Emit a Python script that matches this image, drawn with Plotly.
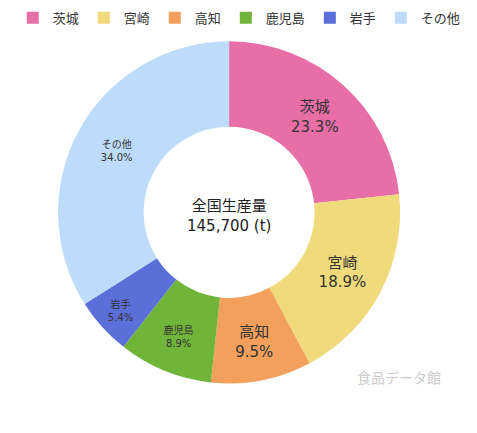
import plotly.graph_objects as go

labels = ['茨城', '宮崎', '高知', '鹿児島', '岩手', 'その他']
shares = [23.3, 18.9, 9.5, 8.9, 5.4, 34.0]
colors = ['#e86ea8', '#f0da7c', '#f2a05b', '#70b43a', '#5b6fd8', '#bddbfa']
text_sizes = [15, 15, 15, 10, 10, 10]
total_label = '全国生産量<br>145,700 (t)'

font = 'DejaVu Sans, Noto Sans CJK JP'

fig = go.Figure(go.Pie(
    labels=labels,
    values=shares,
    marker=dict(colors=colors, line=dict(width=0)),
    hole=0.5,
    sort=False,
    direction='clockwise',
    rotation=0,
    textinfo='text',
    texttemplate='%{label}<br>%{value:.1f}%',
    textposition='inside',
    insidetextorientation='horizontal',
    insidetextfont=dict(size=text_sizes, color='#333333', family=font),
    domain=dict(x=[0.105, 0.822], y=[0.132, 0.924]),
    hoverinfo='label+percent',
))

# 中央の合計と右下の透かし
fig.add_annotation(text=total_label, x=0.4633, y=0.52, xref='paper', yref='paper',
                   xanchor='center', yanchor='middle', showarrow=False,
                   font=dict(size=15, color='#222222', family=font))
fig.add_annotation(text='食品データ館', x=0.82, y=0.145, xref='paper', yref='paper',
                   xanchor='center', yanchor='middle', showarrow=False,
                   font=dict(size=14, color='#cccccc', family=font))

fig.update_layout(
    width=477, height=433,
    margin=dict(l=0, r=0, t=0, b=0, autoexpand=False),
    paper_bgcolor='white',
    font=dict(family=font, color='#333333'),
    legend=dict(orientation='h', x=0.01, xanchor='left', y=1.012, yanchor='top',
                font=dict(size=13), itemwidth=30, traceorder='normal'),
)

fig.write_html("out.html")
